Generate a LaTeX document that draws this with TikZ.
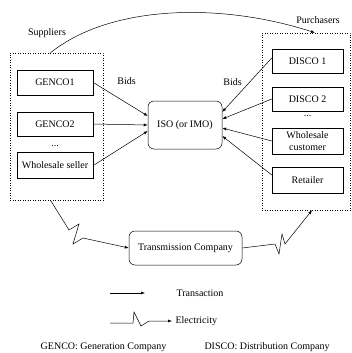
\documentclass[tikz,border=0pt]{standalone}
\usepackage{fontspec}
\setmainfont{Liberation Serif}
\usetikzlibrary{arrows.meta, positioning}

\begin{document}
\begin{tikzpicture}[
    x=1pt, y=-1pt,
    font=\normalsize,
    every path/.style={line width=0.5pt},
    unit/.style={rectangle, draw, minimum height=24pt, inner sep=1pt, align=center},
    hub/.style={rectangle, draw, rounded corners=6pt, inner sep=1pt, align=center},
    group/.style={rectangle, draw, dotted},
    bid/.style={-{Latex[length=4pt, width=3pt]}},
    power/.style={-{Latex[length=4pt, width=3pt]}}
]
\useasboundingbox (0,0) rectangle (352,353);

% Dotted groups
\node[group, minimum width=93pt, minimum height=147pt] (suppliers) at (56.5,126.5) {};
\node[group, minimum width=88pt, minimum height=177pt] (purchasers) at (306,121.5) {};
\node (supplab) at (47,33) {Suppliers};
\node (purchlab) at (318,20) {Purchasers};

% Supplier side
\node[unit, minimum width=76pt, minimum height=25pt] (genco1) at (55,82.5) {GENCO1};
\node[unit, minimum width=76pt] (genco2) at (55,124) {GENCO2};
\node (sdots) at (55,146) {...};
\node[unit, minimum width=76pt, minimum height=26pt] (seller) at (55,165.5) {Wholesale seller};

% Purchaser side
\node[unit, minimum width=71pt] (disco1) at (307.5,61) {DISCO 1};
\node[unit, minimum width=71pt] (disco2) at (307.5,99) {DISCO 2};
\node (pdots) at (307.5,116) {...};
\node[unit, minimum width=71pt, minimum height=26pt] (customer) at (307.5,141) {Wholesale\\customer};
\node[unit, minimum width=71pt, minimum height=26pt] (retailer) at (307.5,180) {Retailer};

% Operator and grid
\node[hub, minimum width=74pt, minimum height=48pt] (iso) at (185,125) {ISO (or IMO)};
\node[hub, minimum width=113pt, minimum height=34pt] (trans) at (185.5,248) {Transmission Company};

% Bids
\node (bidleft) at (126.5,81) {Bids};
\node (bidright) at (232.5,82) {Bids};
\draw[bid] (genco1.east) -- ([yshift=9pt]iso.west);
\draw[bid] (genco2.east) -- (iso.west);
\draw[bid] (seller.east) -- ([yshift=-6pt]iso.west);
\draw[bid] ([yshift=3pt]disco1.west) -- ([yshift=13pt]iso.east);
\draw[bid] (disco2.west) -- ([yshift=6pt]iso.east);
\draw[bid] (customer.west) -- ([yshift=-3pt]iso.east);
\draw[bid] ([yshift=5pt]retailer.west) -- ([yshift=-11pt]iso.east);

% Suppliers to purchasers
\draw[bid] ([xshift=-6pt]suppliers.north) .. controls (110,5) and (220,2) .. ([xshift=9pt]purchasers.north);

% Electricity flow
\draw[power] ([xshift=-6pt]suppliers.south) -- (69,230) -- (79,224) -- (73,244) -- (83,238) -- (trans.west);
\draw[power] (trans.east) -- (275,244) -- (279,254) -- (282,234) -- (285,244) -- ([xshift=6pt]purchasers.south);

% Legend
\coordinate (tstart) at (110,293);
\coordinate (tend) at (145,293);
\node[anchor=west] (tlabel) at (173,293) {Transaction};
\draw[bid] (tstart) -- (tend);
\coordinate (estart) at (110,323);
\node[anchor=west] (elabel) at (172,321) {Electricity};
\draw[power] (estart) -- (133,323) -- (134,312) -- (141,326) -- (149,321) -- (elabel.west);

\node (gencokey) at (103.5,347) {GENCO: Generation Company};
\node (discokey) at (267,347) {DISCO: Distribution Company};

\end{tikzpicture}
\end{document}
